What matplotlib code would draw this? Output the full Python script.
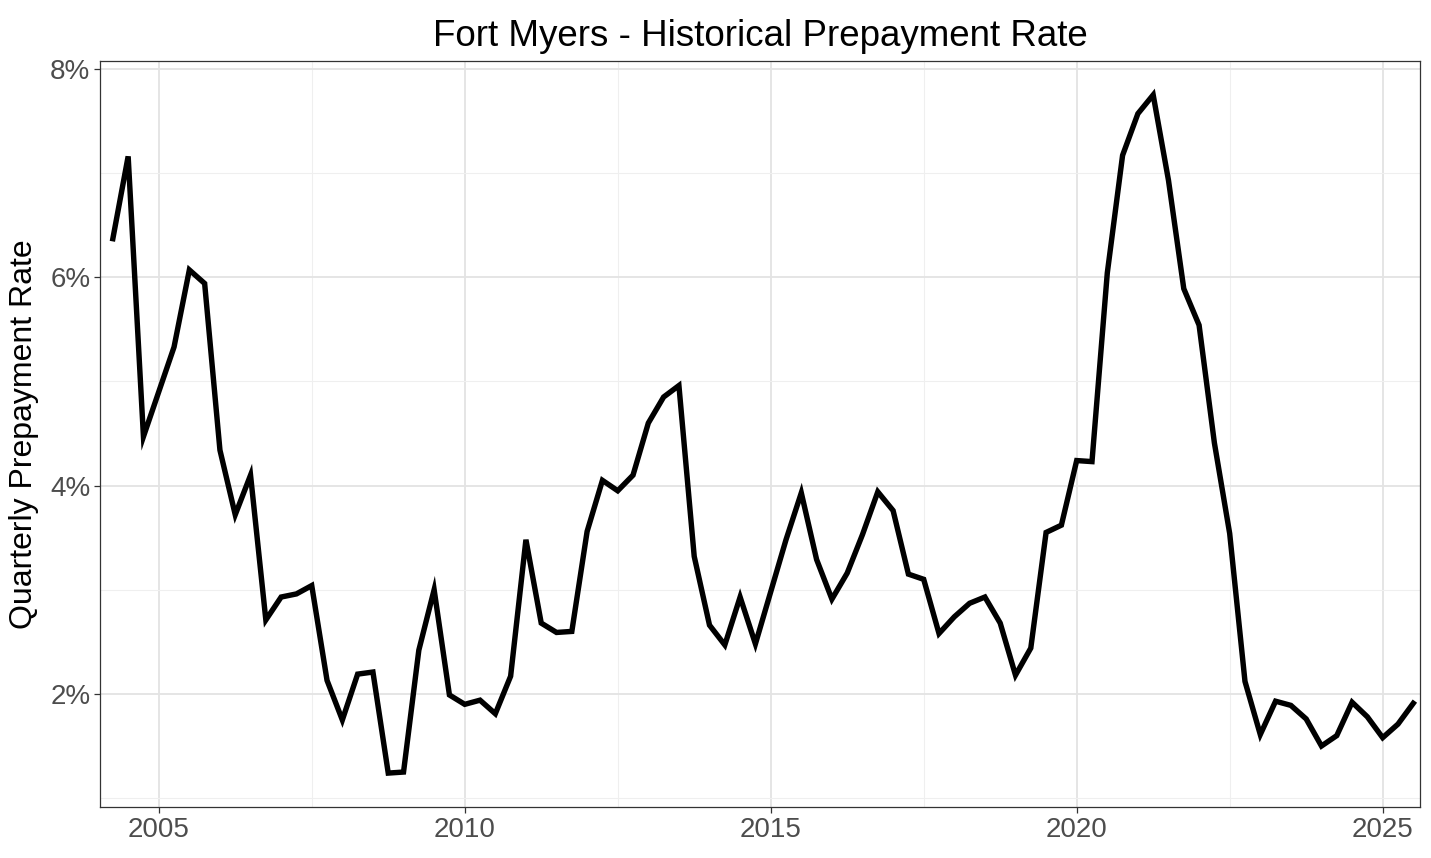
import numpy as np
import matplotlib.pyplot as plt
from matplotlib.ticker import FuncFormatter, MultipleLocator

plt.rcParams["font.family"] = ["Liberation Sans", "DejaVu Sans"]

# quarterly observations, 2004 Q2 .. 2025 Q3
START_YEAR = 2004.25
RATE = [
    6.37, 7.16, 4.47, 4.90, 5.33, 6.07, 5.94, 4.34,   # 2004.25 - 2006.0
    3.72, 4.10, 2.71, 2.93, 2.96, 3.04, 2.13, 1.75,   # 2006.25 - 2008.0
    2.19, 2.21, 1.24, 1.25, 2.42, 3.00, 1.99, 1.90,   # 2008.25 - 2010.0
    1.94, 1.81, 2.17, 3.48, 2.68, 2.59, 2.60, 3.56,   # 2010.25 - 2012.0
    4.05, 3.95, 4.10, 4.60, 4.85, 4.96, 3.32, 2.66,   # 2012.25 - 2014.0
    2.47, 2.93, 2.48, 2.98, 3.48, 3.93, 3.29, 2.91,   # 2014.25 - 2016.0
    3.16, 3.53, 3.94, 3.76, 3.15, 3.10, 2.58, 2.74,   # 2016.25 - 2018.0
    2.87, 2.93, 2.68, 2.18, 2.44, 3.55, 3.62, 4.24,   # 2018.25 - 2020.0
    4.23, 6.04, 7.17, 7.57, 7.75, 6.93, 5.89, 5.54,   # 2020.25 - 2022.0
    4.41, 3.54, 2.12, 1.61, 1.93, 1.89, 1.76, 1.50,   # 2022.25 - 2024.0
    1.60, 1.92, 1.78, 1.58, 1.71, 1.91,               # 2024.25 - 2025.5
]
YEARS = START_YEAR + 0.25 * np.arange(len(RATE))
X_TICKS = [2005, 2010, 2015, 2020, 2025]
Y_TICKS = [2, 4, 6, 8]

fig = plt.figure(figsize=(14.31, 8.58), dpi=100)
ax = fig.add_axes([100 / 1431, 1 - 807 / 858, 1320 / 1431, 746 / 858])

ax.plot(YEARS, RATE, color="black", lw=3.9, solid_joinstyle="miter", zorder=3)

lo, hi = min(RATE), max(RATE)
pad = 0.05 * (hi - lo)
ax.set_ylim(lo - pad, hi + pad)
ax.set_xlim(2004.04, 2025.61)

ax.set_xticks(X_TICKS)
ax.set_yticks(Y_TICKS)
ax.xaxis.set_minor_locator(MultipleLocator(2.5))
ax.yaxis.set_minor_locator(MultipleLocator(1))
ax.yaxis.set_major_formatter(FuncFormatter(lambda v, _: f"{v:.0f}%"))

ax.grid(which="major", color="#e3e3e3", lw=1.3, zorder=0)
ax.grid(which="minor", color="#efefef", lw=0.8, zorder=0)
ax.set_axisbelow(True)
for s in ax.spines.values():
    s.set_color("#333333")
    s.set_linewidth(0.9)
ax.tick_params(which="major", length=4, width=0.9, color="#333333",
               labelsize=20, labelcolor="#4d4d4d", pad=3)
ax.tick_params(which="minor", length=0)

ax.set_ylabel("Quarterly Prepayment Rate", fontsize=23, color="black", labelpad=8)
ax.set_title("Fort Myers - Historical Prepayment Rate", fontsize=26.5, pad=11)

fig.savefig("out.png", dpi=100)
